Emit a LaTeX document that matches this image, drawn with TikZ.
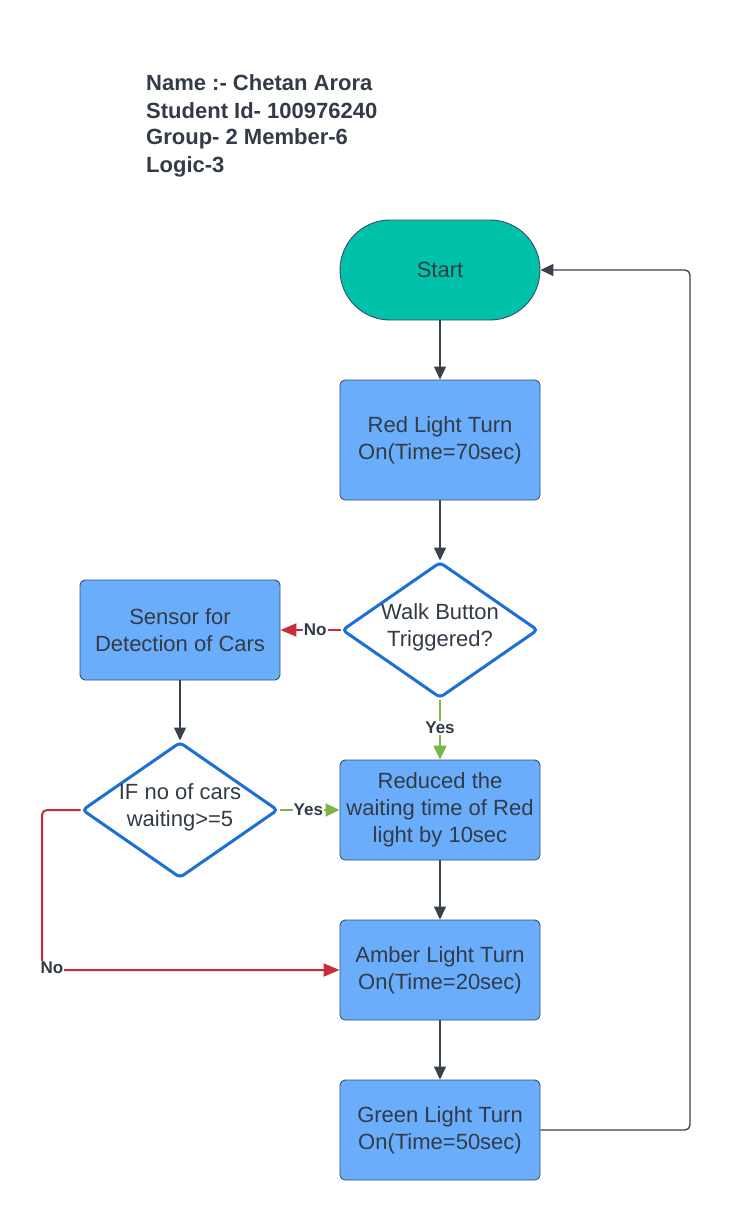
\documentclass[tikz,border=0pt]{standalone}
\usepackage{fontspec}
\setmainfont{Liberation Sans}
\usetikzlibrary{shapes.geometric,arrows.meta}
\definecolor{txt}{HTML}{333B47}
\definecolor{boxfill}{HTML}{6AADFA}
\definecolor{boxline}{HTML}{3A4D6B}
\definecolor{teal}{HTML}{00C1A9}
\definecolor{dia}{HTML}{1C6FD4}
\definecolor{conn}{HTML}{3A414A}
\definecolor{redc}{HTML}{C92D39}
\definecolor{greenc}{HTML}{7AB648}
\tikzset{
  box/.style={draw=boxline, line width=0.9pt, fill=boxfill, rounded corners=5pt,
    minimum width=200pt, minimum height=100pt, inner sep=0pt, align=center,
    text=txt, font=\fontsize{22}{27}\selectfont},
  term/.style={draw=boxline, line width=0.9pt, fill=teal, rounded corners=50pt,
    minimum width=200pt, minimum height=100pt, inner sep=0pt,
    text=txt, font=\fontsize{22}{27}\selectfont},
  dec/.style={diamond, draw=dia, line width=3pt, fill=white, rounded corners=4pt,
    minimum width=196pt, minimum height=136pt, inner sep=0pt},
  dectext/.style={align=center, text=txt, font=\fontsize{22}{27}\selectfont},
  arr/.style={draw=conn, line width=1.3pt, -{Triangle[length=13pt,width=12pt]}},
  redarr/.style={draw=redc, line width=2pt, -{Triangle[length=16pt,width=13pt]}},
  greenarr/.style={draw=greenc, line width=2.2pt, -{Triangle[length=14pt,width=13pt]}},
  lab/.style={fill=white, inner sep=1pt, text=txt, font=\fontsize{17}{20}\selectfont\bfseries},
  head/.style={anchor=base west, inner sep=0pt, text=txt, font=\fontsize{22}{27}\selectfont\bfseries},
}
\begin{document}
\begin{tikzpicture}[x=1pt,y=-1pt]
\useasboundingbox (0,0) rectangle (730,1220);
\fill[white] (0,0) rectangle (730,1220);

\node[head] (h1) at (146,91) {Name :- Chetan Arora};
\node[head] (h2) at (146,118) {Student Id- 100976240};
\node[head] (h3) at (146,145) {Group- 2 Member-6};
\node[head] (h4) at (146,172) {Logic-3};

\node[term] (start) at (440,270) {Start};
\node[box, minimum height=120pt] (red) at (440,440) {Red Light Turn\\On(Time=70sec)};
\node[dec] (walk) at (440,630) {};
\node[dectext] (walkt) at (440,627) {Walk Button\\Triggered?};
\node[box] (sensor) at (180,630) {Sensor for\\Detection of Cars};
\node[dec] (ifc) at (180,810) {};
\node[dectext] (ifct) at (180,807) {IF no of cars\\waiting>=5};
\node[box] (reduced) at (440,810) {Reduced the\\waiting time of Red\\light by 10sec};
\node[box] (amber) at (440,970) {Amber Light Turn\\On(Time=20sec)};
\node[box] (green) at (440,1130) {Green Light Turn\\On(Time=50sec)};

\draw[arr] (start.south) -- (red.north);
\draw[arr] (red.south) -- (walk.north);
\draw[redarr] (walk.west) -- (sensor.east) node[lab, pos=0.42] (no1) {No};
\draw[greenarr] (walk.south) -- (reduced.north) node[lab, pos=0.47] (yes1) {Yes};
\draw[arr] (sensor.south) -- (ifc.north);
\draw[greenarr] (ifc.east) -- (reduced.west |- ifc.east) node[lab, pos=0.48] (yes2) {Yes};
\draw[redarr, rounded corners=5pt] (ifc.west) -- (42,810) -- (42,970) -- (amber.west);
\node[lab] (no2) at (52,968) {No};
\draw[arr] (reduced.south) -- (amber.north);
\draw[arr] (amber.south) -- (green.north);
\draw[arr, rounded corners=5pt] (green.east) -- (690,1130) -- (690,270) -- (start.east);
\end{tikzpicture}
\end{document}
